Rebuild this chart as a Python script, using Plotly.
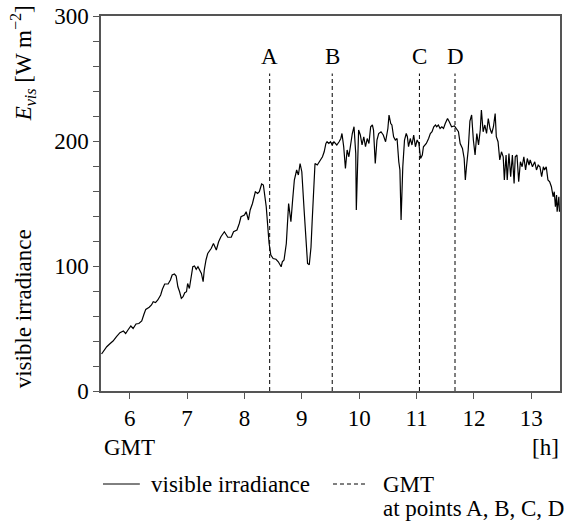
import plotly.graph_objects as go

# Visible irradiance record (GMT hours, W m^-2)
gmt_hours = [
    5.51, 5.60, 5.66, 5.71, 5.77, 5.83, 5.89, 5.93, 5.97, 6.02,
    6.06, 6.11, 6.16, 6.21, 6.25, 6.28, 6.34, 6.38, 6.41, 6.45,
    6.49, 6.54, 6.57, 6.61, 6.67, 6.71, 6.74, 6.78, 6.81, 6.84,
    6.87, 6.90, 6.93, 6.96, 6.99, 7.01, 7.04, 7.07, 7.10, 7.13,
    7.16, 7.19, 7.22, 7.25, 7.28, 7.30, 7.33, 7.36, 7.42, 7.46,
    7.51, 7.55, 7.59, 7.65, 7.71, 7.77, 7.81, 7.87, 7.91, 7.94,
    8.00, 8.03, 8.07, 8.10, 8.14, 8.19, 8.23, 8.26, 8.30, 8.33,
    8.38, 8.40, 8.43, 8.46, 8.50, 8.55, 8.59, 8.64, 8.66, 8.69,
    8.73, 8.77, 8.81, 8.84, 8.87, 8.91, 8.94, 8.97, 9.00, 9.04,
    9.07, 9.10, 9.13, 9.16, 9.18, 9.21, 9.23, 9.27, 9.32, 9.36,
    9.39, 9.42, 9.44, 9.47, 9.50, 9.53, 9.56, 9.61, 9.65, 9.68,
    9.70, 9.73, 9.76, 9.79, 9.82, 9.85, 9.88, 9.91, 9.94, 9.95,
    9.98, 9.99, 10.02, 10.05, 10.08, 10.11, 10.14, 10.17, 10.20, 10.23,
    10.25, 10.28, 10.31, 10.34, 10.38, 10.42, 10.46, 10.50, 10.52, 10.55,
    10.57, 10.60, 10.63, 10.66, 10.69, 10.71, 10.73, 10.76, 10.79, 10.82,
    10.84, 10.86, 10.89, 10.92, 10.95, 10.98, 11.01, 11.04, 11.07, 11.10,
    11.12, 11.17, 11.21, 11.24, 11.27, 11.30, 11.33, 11.35, 11.38, 11.41,
    11.44, 11.47, 11.50, 11.54, 11.57, 11.61, 11.66, 11.69, 11.73, 11.76,
    11.80, 11.83, 11.85, 11.87, 11.90, 11.93, 11.96, 11.99, 12.02, 12.05,
    12.08, 12.11, 12.13, 12.16, 12.19, 12.22, 12.25, 12.28, 12.31, 12.34,
    12.37, 12.39, 12.42, 12.45, 12.48, 12.51, 12.53, 12.56, 12.58, 12.61,
    12.64, 12.67, 12.70, 12.72, 12.75, 12.78, 12.81, 12.84, 12.87, 12.90,
    12.93, 12.96, 12.98, 13.02, 13.06, 13.09, 13.12, 13.15, 13.18, 13.21,
    13.23, 13.26, 13.29, 13.32, 13.35, 13.38, 13.40, 13.42, 13.44, 13.45,
    13.48, 13.49,
]
irradiance = [
    29.6, 35.4, 38.0, 40.0, 43.5, 46.7, 48.0, 46.0, 48.8, 52.0,
    50.0, 53.6, 54.0, 56.0, 61.6, 65.3, 67.0, 68.8, 71.4, 70.7,
    72.8, 76.8, 81.4, 85.6, 85.6, 88.8, 92.8, 93.6, 92.0, 83.4,
    79.4, 74.1, 75.4, 78.6, 79.4, 86.0, 82.0, 90.0, 99.4, 100.0,
    97.4, 99.4, 96.8, 94.0, 87.4, 96.8, 104.8, 110.0, 114.0, 118.0,
    112.8, 119.4, 123.4, 127.4, 123.0, 123.0, 127.4, 128.8, 134.0, 139.4,
    140.8, 143.4, 136.8, 144.8, 150.0, 159.4, 158.0, 159.4, 165.6, 164.8,
    147.4, 134.0, 118.0, 108.8, 106.0, 105.4, 103.4, 99.4, 103.4, 104.8,
    118.0, 150.0, 135.4, 152.8, 168.8, 176.8, 172.8, 182.0, 175.4, 144.8,
    123.4, 102.0, 101.0, 115.0, 135.4, 172.0, 182.0, 180.8, 184.8, 187.4,
    191.4, 198.0, 199.4, 198.0, 199.4, 196.8, 199.4, 196.8, 199.4, 202.0,
    206.0, 195.4, 178.0, 192.8, 187.4, 196.8, 206.0, 211.4, 190.0, 144.8,
    182.0, 208.8, 204.8, 196.8, 203.4, 195.4, 202.0, 198.0, 211.4, 212.8,
    208.8, 182.0, 200.8, 206.0, 207.4, 204.8, 199.4, 210.0, 220.8, 214.0,
    212.8, 203.4, 200.8, 202.0, 183.4, 176.8, 136.8, 179.4, 200.8, 206.0,
    203.4, 195.4, 202.0, 196.8, 204.8, 195.4, 200.8, 198.0, 186.0, 188.8,
    195.4, 198.0, 202.0, 206.0, 207.4, 211.4, 212.8, 211.4, 212.8, 210.0,
    211.4, 210.0, 214.0, 218.0, 215.4, 211.4, 212.0, 210.0, 207.4, 198.0,
    194.0, 186.0, 168.8, 179.4, 192.8, 216.0, 220.8, 200.8, 188.8, 206.0,
    196.8, 208.8, 224.8, 207.4, 212.8, 206.0, 218.0, 210.0, 206.0, 211.4,
    222.0, 203.4, 199.4, 184.8, 191.4, 187.4, 168.8, 188.8, 168.8, 190.0,
    171.4, 188.8, 166.0, 187.4, 188.8, 167.4, 183.4, 179.4, 187.4, 176.8,
    186.0, 180.8, 184.8, 179.4, 183.4, 176.8, 180.8, 179.4, 171.4, 179.4,
    176.8, 179.4, 168.8, 167.4, 163.4, 155.4, 159.4, 147.4, 156.8, 143.4,
    155.4, 143.4,
]

# Marked points along the record
point_names = ["A", "B", "C", "D"]
point_hours = [8.44, 9.53, 11.05, 11.67]
marker_top = 254
label_level = 268

x_range = [5.5, 13.5]
y_range = [0, 300]
x_ticks = [6, 7, 8, 9, 10, 11, 12, 13]
y_ticks = [0, 100, 200, 300]

FONT = "Liberation Serif, Times New Roman, serif"
FS = 23
AXIS_GRAY = "#555555"

# plot area in pixels (left, right, top, bottom)
L, R, T, B = 101, 562, 16, 391


def px_x(p):
    return (p - L) / (R - L)


def px_y(p):
    return (B - p) / (B - T)


def text_font():
    return dict(size=FS, color="black", family=FONT)


fig = go.Figure()

fig.add_trace(go.Scatter(
    x=gmt_hours, y=irradiance, mode="lines",
    line=dict(color="black", width=1.2),
    showlegend=False, hoverinfo="skip",
))

vx, vy = [], []
for h in point_hours:
    vx += [h, h, None]
    vy += [0, marker_top, None]
fig.add_trace(go.Scatter(
    x=vx, y=vy, mode="lines",
    line=dict(color="black", width=1, dash="4px,3px"),
    showlegend=False, hoverinfo="skip",
))

for name, h in zip(point_names, point_hours):
    fig.add_annotation(x=h, y=label_level, text=name, showarrow=False,
                       xref="x", yref="y", xanchor="center", yanchor="middle",
                       font=text_font())

# Axis titles
fig.add_annotation(x=px_x(23), y=px_y(309), xref="paper", yref="paper",
                   text="visible irradiance", textangle=-90, showarrow=False,
                   xanchor="center", yanchor="middle", font=text_font())
fig.add_annotation(x=px_x(23), y=px_y(63), xref="paper", yref="paper",
                   text="<i>E<sub>vis</sub></i> [W m<sup>−2</sup>]", textangle=-90,
                   showarrow=False, xanchor="center", yanchor="middle", font=text_font())
fig.add_annotation(x=px_x(102), y=px_y(448), xref="paper", yref="paper", text="GMT",
                   xanchor="left", yanchor="middle", showarrow=False, font=text_font())
fig.add_annotation(x=px_x(563), y=px_y(448), xref="paper", yref="paper", text="[h]",
                   xanchor="right", yanchor="middle", showarrow=False, font=text_font())

# Key below the chart
fig.add_shape(type="line", xref="paper", yref="paper", x0=px_x(103), x1=px_x(140),
              y0=px_y(484), y1=px_y(484), line=dict(color="black", width=1))
fig.add_annotation(x=px_x(149), y=px_y(484), xref="paper", yref="paper",
                   text="visible irradiance", xanchor="left", yanchor="middle",
                   showarrow=False, font=text_font())
fig.add_shape(type="line", xref="paper", yref="paper", x0=px_x(334), x1=px_x(367),
              y0=px_y(484), y1=px_y(484), line=dict(color="black", width=1, dash="4px,3px"))
fig.add_annotation(x=px_x(382), y=px_y(484), xref="paper", yref="paper",
                   text="GMT", xanchor="left", yanchor="middle", showarrow=False,
                   font=text_font())
fig.add_annotation(x=px_x(382), y=px_y(508), xref="paper", yref="paper",
                   text="at points A, B, C, D", xanchor="left", yanchor="middle",
                   showarrow=False, font=text_font())

fig.update_xaxes(
    range=x_range, tickvals=x_ticks, ticks="outside", ticklen=6, tickcolor=AXIS_GRAY,
    showline=True, linecolor=AXIS_GRAY, linewidth=1.5, mirror=True,
    showgrid=False, zeroline=False, tickfont=text_font(),
)
fig.update_yaxes(
    range=y_range, tickvals=y_ticks, ticks="outside", ticklen=6, tickcolor=AXIS_GRAY,
    minor=dict(dtick=20, ticks="outside", ticklen=6, tickcolor=AXIS_GRAY, showgrid=False),
    showline=True, linecolor=AXIS_GRAY, linewidth=1.5, mirror=True,
    showgrid=False, zeroline=False, tickfont=text_font(),
)

fig.update_layout(
    width=564, height=522,
    margin=dict(l=L, r=564 - R, t=T, b=522 - B),
    paper_bgcolor="white", plot_bgcolor="white",
    font=dict(family=FONT, size=FS, color="black"),
    showlegend=False,
)

fig.write_html("out.html")
